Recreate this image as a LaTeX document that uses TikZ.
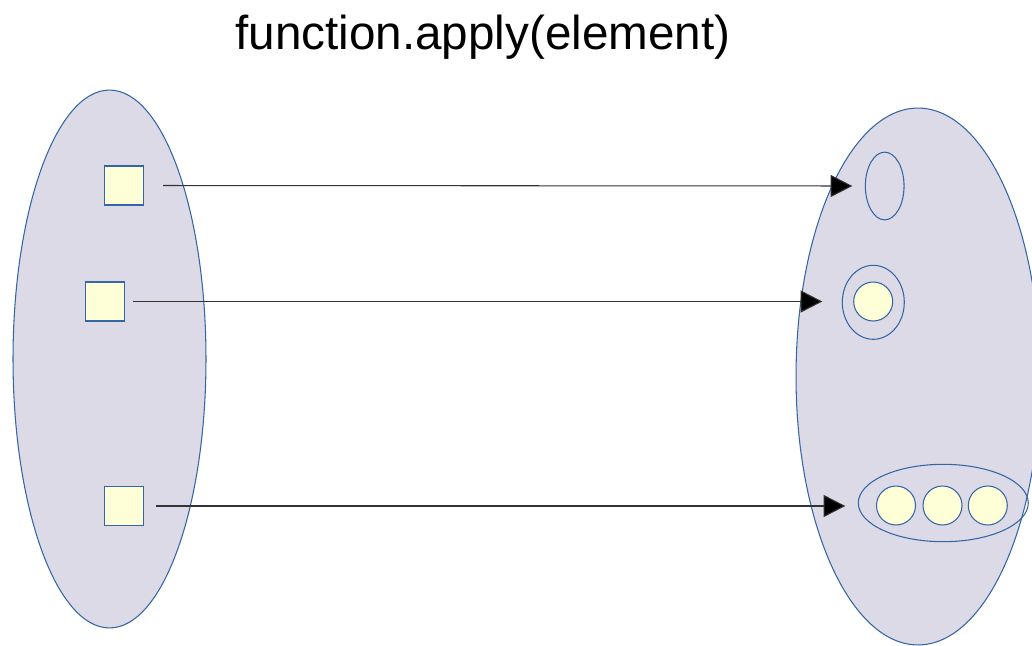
\documentclass[tikz,border=0pt]{standalone}
\usepackage{fontspec}
\setmainfont{Liberation Sans}
\usetikzlibrary{shapes.geometric,arrows.meta}
\definecolor{setfill}{HTML}{DCDAE6}
\definecolor{lineblue}{HTML}{3465A4}
\definecolor{elemfill}{HTML}{FFFFD7}
\definecolor{arrowgray}{HTML}{333333}
\tikzset{
  setbox/.style={ellipse, draw=lineblue, fill=setfill, line width=0.6pt, inner sep=0pt},
  elemsq/.style={rectangle, draw=lineblue, fill=elemfill, line width=0.6pt, minimum size=0.78cm, inner sep=0pt},
  elemcirc/.style={circle, draw=lineblue, fill=elemfill, line width=0.6pt, minimum size=0.78cm, inner sep=0pt},
  wrap/.style={ellipse, draw=lineblue, line width=0.6pt, inner sep=0pt},
  maparrow/.style={draw=arrowgray, line width=0.6pt, -{Triangle[length=12.4pt,width=12.6pt,fill=black]}}
}
\begin{document}
\begin{tikzpicture}[x=0.02cm,y=-0.02cm]
\useasboundingbox (0,0) rectangle (1032,646);
\clip (0,0) rectangle (1032,646);
% title
\node[anchor=base, font=\fontsize{27.1}{32}\selectfont] (title) at (483,49.5) {function.apply(element)};
% sets
\node[setbox, minimum width=3.86cm, minimum height=10.76cm] (dom) at (109.5,359) {};
\node[setbox, minimum width=4.88cm, minimum height=10.74cm] (cod) at (918,376.5) {};
% domain elements
\node[elemsq] (s1) at (124,185.5) {};
\node[elemsq] (s2) at (105,301.5) {};
\node[elemsq] (s3) at (124,506) {};
% codomain elements
\node[wrap, minimum width=0.774cm, minimum height=1.354cm] (empty) at (884.7,186) {};
\node[wrap, minimum width=1.24cm, minimum height=1.48cm] (single) at (873.3,302.3) {};
\node[elemcirc] (c0) at (873.2,301.5) {};
\node[wrap, minimum width=3.4cm, minimum height=1.548cm] (triple) at (943.3,503) {};
\node[elemcirc] (c1) at (896,505.5) {};
\node[elemcirc] (c2) at (942.5,505.5) {};
\node[elemcirc] (c3) at (987.8,505.5) {};
% mappings
\draw[maparrow, shorten <=0.38cm, shorten >=0.25cm] (s1.east) -- (empty.west);
\draw[maparrow, shorten <=0.16cm, shorten >=0.39cm] (s2.east) -- (single.west |- s2.east);
\draw[maparrow, shorten <=0.24cm, shorten >=0.25cm] (s3.east) -- (triple.west |- s3.east);
\end{tikzpicture}
\end{document}
